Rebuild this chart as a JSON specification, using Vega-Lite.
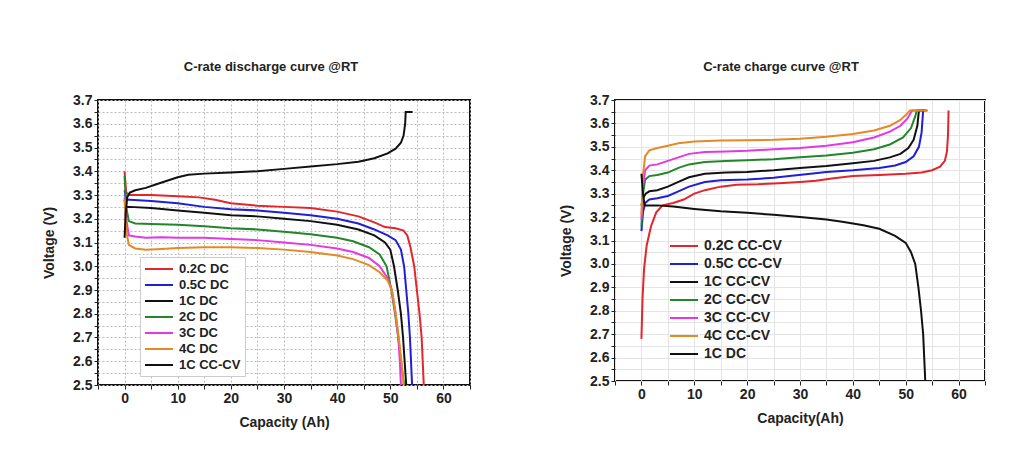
{
  "$schema": "https://vega.github.io/schema/vega-lite/v6.json",
  "background": "white",
  "padding": {"left": 41, "top": 60, "right": 5, "bottom": 5},
  "spacing": 86,
  "config": {
    "font": "Liberation Sans",
    "view": {"stroke": "#111", "strokeWidth": 2},
    "axis": {"labelFont": "Liberation Sans", "labelFontSize": 14, "labelFontWeight": "bold", "labelColor": "#222", "titleFont": "Liberation Sans", "titleFontSize": 14, "titleFontWeight": "bold", "titleColor": "#222", "domain": false, "tickColor": "#222", "tickSize": 4},
    "title": {"font": "Liberation Sans", "fontSize": 13, "fontWeight": "bold", "color": "#222", "offset": 19},
    "legend": {"title": null, "symbolType": "M-2,0H2", "symbolSize": 196, "symbolOffset": 7, "labelOffset": 12, "symbolStrokeWidth": 3, "labelFont": "Liberation Sans", "labelFontWeight": "bold", "labelColor": "#222", "orient": "none"},
    "line": {"strokeWidth": 2}
  },
  "resolve": {"scale": {"color": "independent"}, "legend": {"color": "independent"}},
  "datasets": {
    "dis": [
      {"s": "0.2C DC", "x": 0, "y": 3.40}, {"s": "0.2C DC", "x": 0.3, "y": 3.31}, {"s": "0.2C DC", "x": 1, "y": 3.30}, {"s": "0.2C DC", "x": 5, "y": 3.30}, {"s": "0.2C DC", "x": 10, "y": 3.295}, {"s": "0.2C DC", "x": 14, "y": 3.29}, {"s": "0.2C DC", "x": 17, "y": 3.28}, {"s": "0.2C DC", "x": 20, "y": 3.265}, {"s": "0.2C DC", "x": 25, "y": 3.255}, {"s": "0.2C DC", "x": 30, "y": 3.25}, {"s": "0.2C DC", "x": 35, "y": 3.245}, {"s": "0.2C DC", "x": 40, "y": 3.23}, {"s": "0.2C DC", "x": 44, "y": 3.21}, {"s": "0.2C DC", "x": 47, "y": 3.185}, {"s": "0.2C DC", "x": 49, "y": 3.165}, {"s": "0.2C DC", "x": 51, "y": 3.16}, {"s": "0.2C DC", "x": 52.5, "y": 3.15}, {"s": "0.2C DC", "x": 53.2, "y": 3.13}, {"s": "0.2C DC", "x": 53.8, "y": 3.08}, {"s": "0.2C DC", "x": 54.5, "y": 3.0}, {"s": "0.2C DC", "x": 55, "y": 2.9}, {"s": "0.2C DC", "x": 55.5, "y": 2.8}, {"s": "0.2C DC", "x": 55.9, "y": 2.7}, {"s": "0.2C DC", "x": 56.1, "y": 2.6}, {"s": "0.2C DC", "x": 56.3, "y": 2.5},
      {"s": "0.5C DC", "x": 0, "y": 3.32}, {"s": "0.5C DC", "x": 0.3, "y": 3.28}, {"s": "0.5C DC", "x": 1, "y": 3.28}, {"s": "0.5C DC", "x": 5, "y": 3.275}, {"s": "0.5C DC", "x": 10, "y": 3.265}, {"s": "0.5C DC", "x": 15, "y": 3.25}, {"s": "0.5C DC", "x": 20, "y": 3.24}, {"s": "0.5C DC", "x": 25, "y": 3.235}, {"s": "0.5C DC", "x": 30, "y": 3.225}, {"s": "0.5C DC", "x": 35, "y": 3.215}, {"s": "0.5C DC", "x": 40, "y": 3.20}, {"s": "0.5C DC", "x": 44, "y": 3.18}, {"s": "0.5C DC", "x": 47, "y": 3.155}, {"s": "0.5C DC", "x": 49.5, "y": 3.13}, {"s": "0.5C DC", "x": 51, "y": 3.11}, {"s": "0.5C DC", "x": 52, "y": 3.07}, {"s": "0.5C DC", "x": 52.6, "y": 3.0}, {"s": "0.5C DC", "x": 53, "y": 2.9}, {"s": "0.5C DC", "x": 53.4, "y": 2.8}, {"s": "0.5C DC", "x": 53.7, "y": 2.7}, {"s": "0.5C DC", "x": 53.9, "y": 2.6}, {"s": "0.5C DC", "x": 54.1, "y": 2.5},
      {"s": "1C DC", "x": 0, "y": 3.28}, {"s": "1C DC", "x": 0.3, "y": 3.25}, {"s": "1C DC", "x": 1, "y": 3.25}, {"s": "1C DC", "x": 5, "y": 3.245}, {"s": "1C DC", "x": 10, "y": 3.235}, {"s": "1C DC", "x": 15, "y": 3.225}, {"s": "1C DC", "x": 20, "y": 3.215}, {"s": "1C DC", "x": 25, "y": 3.21}, {"s": "1C DC", "x": 30, "y": 3.20}, {"s": "1C DC", "x": 35, "y": 3.19}, {"s": "1C DC", "x": 40, "y": 3.175}, {"s": "1C DC", "x": 44, "y": 3.155}, {"s": "1C DC", "x": 47, "y": 3.13}, {"s": "1C DC", "x": 49, "y": 3.10}, {"s": "1C DC", "x": 50, "y": 3.07}, {"s": "1C DC", "x": 50.7, "y": 3.0}, {"s": "1C DC", "x": 51.4, "y": 2.9}, {"s": "1C DC", "x": 52, "y": 2.8}, {"s": "1C DC", "x": 52.4, "y": 2.7}, {"s": "1C DC", "x": 52.7, "y": 2.6}, {"s": "1C DC", "x": 53.0, "y": 2.5},
      {"s": "2C DC", "x": 0, "y": 3.38}, {"s": "2C DC", "x": 0.3, "y": 3.25}, {"s": "2C DC", "x": 0.8, "y": 3.19}, {"s": "2C DC", "x": 2, "y": 3.18}, {"s": "2C DC", "x": 5, "y": 3.178}, {"s": "2C DC", "x": 10, "y": 3.175}, {"s": "2C DC", "x": 15, "y": 3.168}, {"s": "2C DC", "x": 20, "y": 3.16}, {"s": "2C DC", "x": 25, "y": 3.155}, {"s": "2C DC", "x": 30, "y": 3.145}, {"s": "2C DC", "x": 35, "y": 3.135}, {"s": "2C DC", "x": 40, "y": 3.12}, {"s": "2C DC", "x": 43, "y": 3.105}, {"s": "2C DC", "x": 46, "y": 3.08}, {"s": "2C DC", "x": 48, "y": 3.05}, {"s": "2C DC", "x": 49.3, "y": 3.0}, {"s": "2C DC", "x": 50.2, "y": 2.9}, {"s": "2C DC", "x": 50.9, "y": 2.8}, {"s": "2C DC", "x": 51.5, "y": 2.7}, {"s": "2C DC", "x": 52, "y": 2.6}, {"s": "2C DC", "x": 52.6, "y": 2.5},
      {"s": "3C DC", "x": 0, "y": 3.29}, {"s": "3C DC", "x": 0.3, "y": 3.2}, {"s": "3C DC", "x": 0.8, "y": 3.13}, {"s": "3C DC", "x": 2, "y": 3.125}, {"s": "3C DC", "x": 4, "y": 3.12}, {"s": "3C DC", "x": 7, "y": 3.122}, {"s": "3C DC", "x": 10, "y": 3.12}, {"s": "3C DC", "x": 15, "y": 3.12}, {"s": "3C DC", "x": 20, "y": 3.115}, {"s": "3C DC", "x": 25, "y": 3.11}, {"s": "3C DC", "x": 30, "y": 3.10}, {"s": "3C DC", "x": 35, "y": 3.09}, {"s": "3C DC", "x": 40, "y": 3.075}, {"s": "3C DC", "x": 43, "y": 3.06}, {"s": "3C DC", "x": 46, "y": 3.035}, {"s": "3C DC", "x": 48, "y": 3.0}, {"s": "3C DC", "x": 49.5, "y": 2.95}, {"s": "3C DC", "x": 50.3, "y": 2.9}, {"s": "3C DC", "x": 51, "y": 2.8}, {"s": "3C DC", "x": 51.5, "y": 2.7}, {"s": "3C DC", "x": 51.8, "y": 2.6}, {"s": "3C DC", "x": 52.0, "y": 2.5},
      {"s": "4C DC", "x": 0, "y": 3.28}, {"s": "4C DC", "x": 0.3, "y": 3.15}, {"s": "4C DC", "x": 0.8, "y": 3.09}, {"s": "4C DC", "x": 2, "y": 3.075}, {"s": "4C DC", "x": 4, "y": 3.07}, {"s": "4C DC", "x": 7, "y": 3.073}, {"s": "4C DC", "x": 10, "y": 3.077}, {"s": "4C DC", "x": 15, "y": 3.08}, {"s": "4C DC", "x": 20, "y": 3.08}, {"s": "4C DC", "x": 25, "y": 3.077}, {"s": "4C DC", "x": 30, "y": 3.07}, {"s": "4C DC", "x": 35, "y": 3.06}, {"s": "4C DC", "x": 40, "y": 3.045}, {"s": "4C DC", "x": 43, "y": 3.03}, {"s": "4C DC", "x": 46, "y": 3.005}, {"s": "4C DC", "x": 48, "y": 2.975}, {"s": "4C DC", "x": 49.5, "y": 2.94}, {"s": "4C DC", "x": 50.3, "y": 2.9}, {"s": "4C DC", "x": 51, "y": 2.8}, {"s": "4C DC", "x": 51.6, "y": 2.7}, {"s": "4C DC", "x": 52.1, "y": 2.6}, {"s": "4C DC", "x": 52.5, "y": 2.5},
      {"s": "1C CC-CV", "x": 0, "y": 3.12}, {"s": "1C CC-CV", "x": 0.2, "y": 3.22}, {"s": "1C CC-CV", "x": 0.5, "y": 3.29}, {"s": "1C CC-CV", "x": 1, "y": 3.31}, {"s": "1C CC-CV", "x": 2, "y": 3.32}, {"s": "1C CC-CV", "x": 4, "y": 3.33}, {"s": "1C CC-CV", "x": 6, "y": 3.345}, {"s": "1C CC-CV", "x": 8, "y": 3.36}, {"s": "1C CC-CV", "x": 10, "y": 3.375}, {"s": "1C CC-CV", "x": 12, "y": 3.385}, {"s": "1C CC-CV", "x": 15, "y": 3.39}, {"s": "1C CC-CV", "x": 20, "y": 3.395}, {"s": "1C CC-CV", "x": 25, "y": 3.40}, {"s": "1C CC-CV", "x": 30, "y": 3.41}, {"s": "1C CC-CV", "x": 35, "y": 3.42}, {"s": "1C CC-CV", "x": 40, "y": 3.43}, {"s": "1C CC-CV", "x": 44, "y": 3.44}, {"s": "1C CC-CV", "x": 47, "y": 3.455}, {"s": "1C CC-CV", "x": 49.5, "y": 3.475}, {"s": "1C CC-CV", "x": 51, "y": 3.495}, {"s": "1C CC-CV", "x": 52, "y": 3.52}, {"s": "1C CC-CV", "x": 52.5, "y": 3.55}, {"s": "1C CC-CV", "x": 52.8, "y": 3.60}, {"s": "1C CC-CV", "x": 52.9, "y": 3.65}, {"s": "1C CC-CV", "x": 54.2, "y": 3.65}
    ],
    "chg": [
      {"s": "0.2C CC-CV", "x": 0, "y": 2.68}, {"s": "0.2C CC-CV", "x": 0.2, "y": 2.85}, {"s": "0.2C CC-CV", "x": 0.5, "y": 2.98}, {"s": "0.2C CC-CV", "x": 1, "y": 3.08}, {"s": "0.2C CC-CV", "x": 1.8, "y": 3.16}, {"s": "0.2C CC-CV", "x": 2.8, "y": 3.22}, {"s": "0.2C CC-CV", "x": 4, "y": 3.25}, {"s": "0.2C CC-CV", "x": 6, "y": 3.26}, {"s": "0.2C CC-CV", "x": 8, "y": 3.275}, {"s": "0.2C CC-CV", "x": 10, "y": 3.30}, {"s": "0.2C CC-CV", "x": 12, "y": 3.315}, {"s": "0.2C CC-CV", "x": 15, "y": 3.33}, {"s": "0.2C CC-CV", "x": 18, "y": 3.338}, {"s": "0.2C CC-CV", "x": 22, "y": 3.34}, {"s": "0.2C CC-CV", "x": 26, "y": 3.345}, {"s": "0.2C CC-CV", "x": 30, "y": 3.35}, {"s": "0.2C CC-CV", "x": 33, "y": 3.355}, {"s": "0.2C CC-CV", "x": 36, "y": 3.365}, {"s": "0.2C CC-CV", "x": 40, "y": 3.375}, {"s": "0.2C CC-CV", "x": 45, "y": 3.38}, {"s": "0.2C CC-CV", "x": 50, "y": 3.385}, {"s": "0.2C CC-CV", "x": 53, "y": 3.39}, {"s": "0.2C CC-CV", "x": 55, "y": 3.40}, {"s": "0.2C CC-CV", "x": 56.5, "y": 3.415}, {"s": "0.2C CC-CV", "x": 57.4, "y": 3.44}, {"s": "0.2C CC-CV", "x": 57.8, "y": 3.48}, {"s": "0.2C CC-CV", "x": 58, "y": 3.55}, {"s": "0.2C CC-CV", "x": 58.1, "y": 3.655},
      {"s": "0.5C CC-CV", "x": 0, "y": 3.14}, {"s": "0.5C CC-CV", "x": 0.3, "y": 3.22}, {"s": "0.5C CC-CV", "x": 0.7, "y": 3.26}, {"s": "0.5C CC-CV", "x": 1.5, "y": 3.275}, {"s": "0.5C CC-CV", "x": 3, "y": 3.28}, {"s": "0.5C CC-CV", "x": 5, "y": 3.29}, {"s": "0.5C CC-CV", "x": 7, "y": 3.31}, {"s": "0.5C CC-CV", "x": 9, "y": 3.33}, {"s": "0.5C CC-CV", "x": 12, "y": 3.35}, {"s": "0.5C CC-CV", "x": 15, "y": 3.357}, {"s": "0.5C CC-CV", "x": 20, "y": 3.36}, {"s": "0.5C CC-CV", "x": 25, "y": 3.368}, {"s": "0.5C CC-CV", "x": 28, "y": 3.375}, {"s": "0.5C CC-CV", "x": 32, "y": 3.385}, {"s": "0.5C CC-CV", "x": 35, "y": 3.393}, {"s": "0.5C CC-CV", "x": 40, "y": 3.40}, {"s": "0.5C CC-CV", "x": 45, "y": 3.41}, {"s": "0.5C CC-CV", "x": 48, "y": 3.42}, {"s": "0.5C CC-CV", "x": 50, "y": 3.435}, {"s": "0.5C CC-CV", "x": 51.5, "y": 3.46}, {"s": "0.5C CC-CV", "x": 52.5, "y": 3.50}, {"s": "0.5C CC-CV", "x": 53, "y": 3.56}, {"s": "0.5C CC-CV", "x": 53.3, "y": 3.655}, {"s": "0.5C CC-CV", "x": 54, "y": 3.655},
      {"s": "1C CC-CV", "x": 0, "y": 3.25}, {"s": "1C CC-CV", "x": 0.3, "y": 3.28}, {"s": "1C CC-CV", "x": 0.8, "y": 3.30}, {"s": "1C CC-CV", "x": 1.5, "y": 3.31}, {"s": "1C CC-CV", "x": 3, "y": 3.315}, {"s": "1C CC-CV", "x": 5, "y": 3.33}, {"s": "1C CC-CV", "x": 7, "y": 3.35}, {"s": "1C CC-CV", "x": 9, "y": 3.37}, {"s": "1C CC-CV", "x": 12, "y": 3.385}, {"s": "1C CC-CV", "x": 16, "y": 3.39}, {"s": "1C CC-CV", "x": 20, "y": 3.393}, {"s": "1C CC-CV", "x": 25, "y": 3.40}, {"s": "1C CC-CV", "x": 30, "y": 3.41}, {"s": "1C CC-CV", "x": 35, "y": 3.418}, {"s": "1C CC-CV", "x": 40, "y": 3.43}, {"s": "1C CC-CV", "x": 44, "y": 3.44}, {"s": "1C CC-CV", "x": 47, "y": 3.455}, {"s": "1C CC-CV", "x": 49, "y": 3.47}, {"s": "1C CC-CV", "x": 50.5, "y": 3.495}, {"s": "1C CC-CV", "x": 51.5, "y": 3.53}, {"s": "1C CC-CV", "x": 52.2, "y": 3.59}, {"s": "1C CC-CV", "x": 52.5, "y": 3.655}, {"s": "1C CC-CV", "x": 53.5, "y": 3.655},
      {"s": "2C CC-CV", "x": 0, "y": 3.16}, {"s": "2C CC-CV", "x": 0.3, "y": 3.30}, {"s": "2C CC-CV", "x": 0.7, "y": 3.36}, {"s": "2C CC-CV", "x": 1.5, "y": 3.375}, {"s": "2C CC-CV", "x": 3, "y": 3.38}, {"s": "2C CC-CV", "x": 5, "y": 3.39}, {"s": "2C CC-CV", "x": 7, "y": 3.41}, {"s": "2C CC-CV", "x": 9, "y": 3.425}, {"s": "2C CC-CV", "x": 12, "y": 3.435}, {"s": "2C CC-CV", "x": 16, "y": 3.44}, {"s": "2C CC-CV", "x": 20, "y": 3.443}, {"s": "2C CC-CV", "x": 25, "y": 3.447}, {"s": "2C CC-CV", "x": 30, "y": 3.455}, {"s": "2C CC-CV", "x": 35, "y": 3.463}, {"s": "2C CC-CV", "x": 40, "y": 3.475}, {"s": "2C CC-CV", "x": 44, "y": 3.49}, {"s": "2C CC-CV", "x": 47, "y": 3.51}, {"s": "2C CC-CV", "x": 49.5, "y": 3.54}, {"s": "2C CC-CV", "x": 51, "y": 3.58}, {"s": "2C CC-CV", "x": 51.8, "y": 3.63}, {"s": "2C CC-CV", "x": 52.1, "y": 3.655}, {"s": "2C CC-CV", "x": 53, "y": 3.655},
      {"s": "3C CC-CV", "x": 0, "y": 3.19}, {"s": "3C CC-CV", "x": 0.3, "y": 3.33}, {"s": "3C CC-CV", "x": 0.7, "y": 3.40}, {"s": "3C CC-CV", "x": 1.5, "y": 3.42}, {"s": "3C CC-CV", "x": 3, "y": 3.425}, {"s": "3C CC-CV", "x": 5, "y": 3.44}, {"s": "3C CC-CV", "x": 7, "y": 3.455}, {"s": "3C CC-CV", "x": 9, "y": 3.47}, {"s": "3C CC-CV", "x": 12, "y": 3.478}, {"s": "3C CC-CV", "x": 16, "y": 3.48}, {"s": "3C CC-CV", "x": 20, "y": 3.483}, {"s": "3C CC-CV", "x": 25, "y": 3.49}, {"s": "3C CC-CV", "x": 30, "y": 3.495}, {"s": "3C CC-CV", "x": 35, "y": 3.505}, {"s": "3C CC-CV", "x": 40, "y": 3.52}, {"s": "3C CC-CV", "x": 44, "y": 3.54}, {"s": "3C CC-CV", "x": 47, "y": 3.565}, {"s": "3C CC-CV", "x": 49, "y": 3.59}, {"s": "3C CC-CV", "x": 50.3, "y": 3.62}, {"s": "3C CC-CV", "x": 51.2, "y": 3.655}, {"s": "3C CC-CV", "x": 52.5, "y": 3.655},
      {"s": "4C CC-CV", "x": 0, "y": 3.21}, {"s": "4C CC-CV", "x": 0.3, "y": 3.38}, {"s": "4C CC-CV", "x": 0.7, "y": 3.46}, {"s": "4C CC-CV", "x": 1.5, "y": 3.485}, {"s": "4C CC-CV", "x": 3, "y": 3.495}, {"s": "4C CC-CV", "x": 5, "y": 3.505}, {"s": "4C CC-CV", "x": 7, "y": 3.515}, {"s": "4C CC-CV", "x": 10, "y": 3.523}, {"s": "4C CC-CV", "x": 15, "y": 3.527}, {"s": "4C CC-CV", "x": 20, "y": 3.528}, {"s": "4C CC-CV", "x": 25, "y": 3.53}, {"s": "4C CC-CV", "x": 30, "y": 3.535}, {"s": "4C CC-CV", "x": 35, "y": 3.543}, {"s": "4C CC-CV", "x": 40, "y": 3.555}, {"s": "4C CC-CV", "x": 44, "y": 3.57}, {"s": "4C CC-CV", "x": 47, "y": 3.59}, {"s": "4C CC-CV", "x": 49, "y": 3.615}, {"s": "4C CC-CV", "x": 50.2, "y": 3.64}, {"s": "4C CC-CV", "x": 50.8, "y": 3.655}, {"s": "4C CC-CV", "x": 54.2, "y": 3.655},
      {"s": "1C DC", "x": 0, "y": 3.385}, {"s": "1C DC", "x": 0.3, "y": 3.30}, {"s": "1C DC", "x": 0.6, "y": 3.25}, {"s": "1C DC", "x": 3, "y": 3.25}, {"s": "1C DC", "x": 6, "y": 3.245}, {"s": "1C DC", "x": 10, "y": 3.235}, {"s": "1C DC", "x": 15, "y": 3.225}, {"s": "1C DC", "x": 20, "y": 3.218}, {"s": "1C DC", "x": 25, "y": 3.21}, {"s": "1C DC", "x": 30, "y": 3.20}, {"s": "1C DC", "x": 35, "y": 3.19}, {"s": "1C DC", "x": 38, "y": 3.18}, {"s": "1C DC", "x": 42, "y": 3.165}, {"s": "1C DC", "x": 45, "y": 3.15}, {"s": "1C DC", "x": 48, "y": 3.12}, {"s": "1C DC", "x": 50, "y": 3.09}, {"s": "1C DC", "x": 51, "y": 3.05}, {"s": "1C DC", "x": 51.8, "y": 3.0}, {"s": "1C DC", "x": 52.4, "y": 2.9}, {"s": "1C DC", "x": 52.9, "y": 2.8}, {"s": "1C DC", "x": 53.3, "y": 2.7}, {"s": "1C DC", "x": 53.5, "y": 2.6}, {"s": "1C DC", "x": 53.7, "y": 2.5}
    ]
  },
  "hconcat": [
    {
      "width": 372,
      "height": 285,
      "title": {"text": "C-rate discharge curve @RT", "dx": -13},
      "data": {"name": "dis"},
      "mark": {"type": "line", "clip": true, "strokeWidth": 2},
      "encoding": {
        "x": {"field": "x", "type": "quantitative", "scale": {"domain": [-5, 65], "nice": false, "zero": false},
          "axis": {"title": "Capacity (Ah)", "values": [-5, 0, 5, 10, 15, 20, 25, 30, 35, 40, 45, 50, 55, 60, 65], "labelExpr": "datum.value % 10 === 0 && datum.value >= 0 ? datum.label : ''", "labelPadding": 2, "titlePadding": 10, "gridColor": "#bdbdbd", "gridDash": [2, 2]}},
        "y": {"field": "y", "type": "quantitative", "scale": {"domain": [2.5, 3.7], "nice": false, "zero": false},
          "axis": {"title": "Voltage (V)", "values": [2.5, 2.55, 2.6, 2.65, 2.7, 2.75, 2.8, 2.85, 2.9, 2.95, 3.0, 3.05, 3.1, 3.15, 3.2, 3.25, 3.3, 3.35, 3.4, 3.45, 3.5, 3.55, 3.6, 3.65, 3.7], "labelExpr": "abs(datum.value*10 - round(datum.value*10)) < 0.001 ? format(datum.value, '.1f') : ''", "titlePadding": 16, "gridColor": "#bdbdbd", "gridDash": [2, 2]}},
        "color": {"field": "s", "type": "nominal",
          "scale": {"domain": ["0.2C DC", "0.5C DC", "1C DC", "2C DC", "3C DC", "4C DC", "1C CC-CV"], "range": ["#e3262b", "#1f1fd6", "#111111", "#23862a", "#e338e3", "#e48a25", "#111111"]},
          "legend": {"legendX": 42, "legendY": 157, "strokeColor": "#cccccc", "padding": 4, "labelFontSize": 13, "rowPadding": 1, "fillColor": "white"}}
      }
    },
    {
      "width": 370,
      "height": 281,
      "title": {"text": "C-rate charge curve @RT", "dx": -19},
      "data": {"name": "chg"},
      "mark": {"type": "line", "clip": true, "strokeWidth": 2},
      "encoding": {
        "x": {"field": "x", "type": "quantitative", "scale": {"domain": [-5, 65], "nice": false, "zero": false},
          "axis": {"title": "Capacity(Ah)", "values": [-5, 0, 5, 10, 15, 20, 25, 30, 35, 40, 45, 50, 55, 60, 65], "labelExpr": "datum.value % 10 === 0 && datum.value >= 0 ? datum.label : ''", "labelPadding": 2, "titlePadding": 10, "gridColor": "#e4e4e4"}},
        "y": {"field": "y", "type": "quantitative", "scale": {"domain": [2.5, 3.7], "nice": false, "zero": false},
          "axis": {"title": "Voltage (V)", "values": [2.5, 2.55, 2.6, 2.65, 2.7, 2.75, 2.8, 2.85, 2.9, 2.95, 3.0, 3.05, 3.1, 3.15, 3.2, 3.25, 3.3, 3.35, 3.4, 3.45, 3.5, 3.55, 3.6, 3.65, 3.7], "labelExpr": "abs(datum.value*10 - round(datum.value*10)) < 0.001 ? format(datum.value, '.1f') : ''", "titlePadding": 16, "gridColor": "#e4e4e4"}},
        "color": {"field": "s", "type": "nominal",
          "scale": {"domain": ["0.2C CC-CV", "0.5C CC-CV", "1C CC-CV", "2C CC-CV", "3C CC-CV", "4C CC-CV", "1C DC"], "range": ["#e3262b", "#1f1fd6", "#111111", "#23862a", "#e338e3", "#e48a25", "#111111"]},
          "legend": {"legendX": 54, "legendY": 138, "padding": 0, "labelFontSize": 14, "rowPadding": 3}}
      }
    }
  ]
}
